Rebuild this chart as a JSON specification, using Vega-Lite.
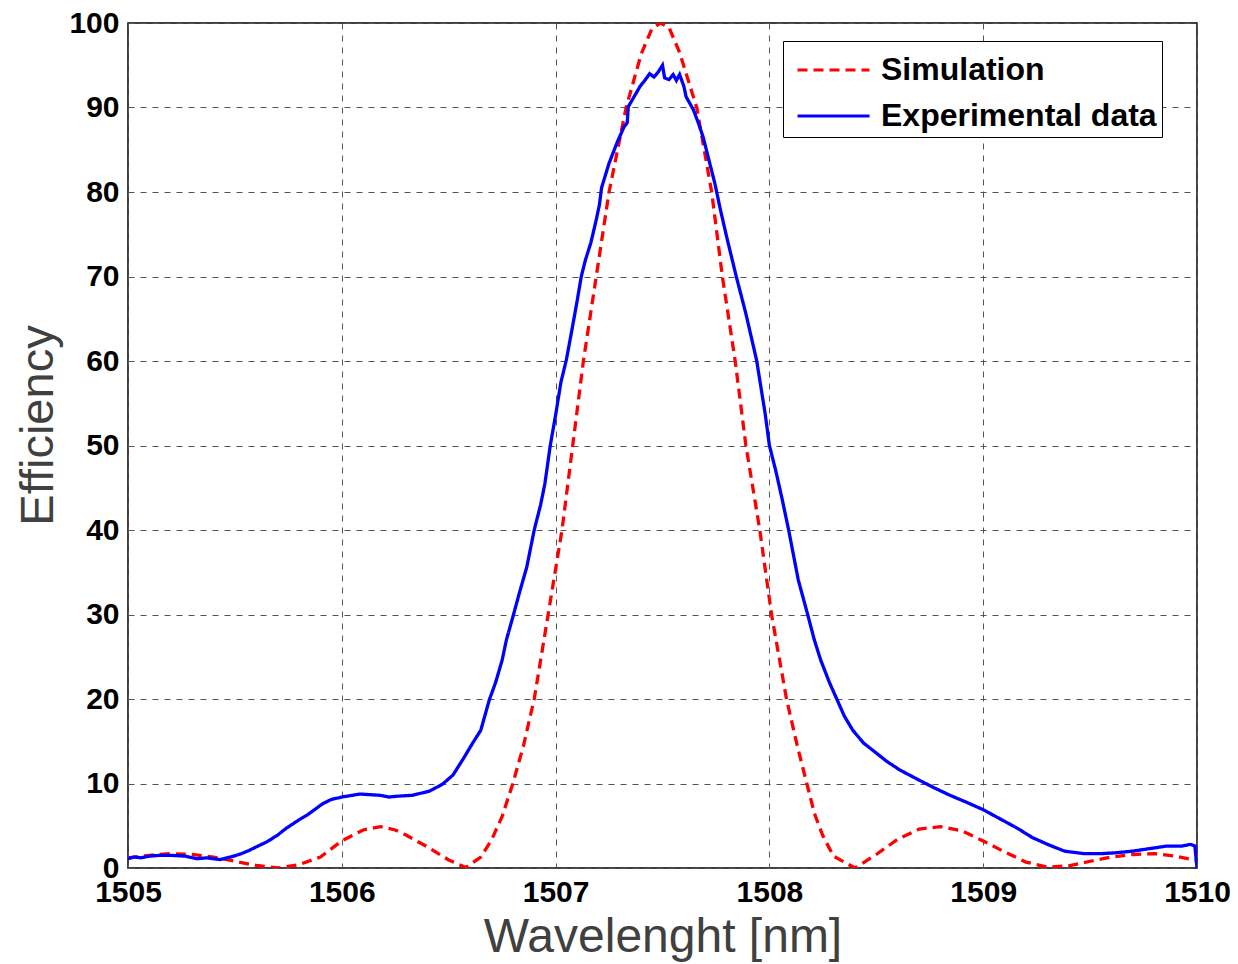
{
  "$schema": "https://vega.github.io/schema/vega-lite/v6.json",
  "width": 1069,
  "height": 845,
  "autosize": {"type": "none"},
  "padding": {"left": 128, "top": 23, "right": 41, "bottom": 96},
  "background": "white",
  "config": {
    "view": {"stroke": "black", "strokeWidth": 1.5},
    "axis": {
      "labelFont": "Liberation Sans",
      "labelFontWeight": "bold",
      "labelFontSize": 30,
      "labelColor": "black",
      "titleFont": "Liberation Sans",
      "titleFontWeight": "normal",
      "titleColor": "#404040",
      "domain": false,
      "ticks": false,
      "grid": true,
      "gridColor": "#555555",
      "gridDash": [6, 6],
      "gridWidth": 1,
      "labelFlush": false
    },
    "legend": {
      "orient": "none",
      "legendX": 655,
      "legendY": 18,
      "strokeColor": "black",
      "fillColor": "white",
      "padding": 5,
      "labelFont": "Liberation Sans",
      "labelFontWeight": "bold",
      "labelFontSize": 32,
      "labelColor": "black",
      "labelLimit": 500,
      "labelOffset": 45,
      "symbolType": "M-0.644,0H2.556",
      "symbolSize": 2025,
      "symbolStrokeWidth": 3,
      "rowPadding": 6
    }
  },
  "data": {
    "values": [
      {"x": 1505.00, "y": 1.2, "s": "Simulation"},
      {"x": 1505.10, "y": 1.5, "s": "Simulation"},
      {"x": 1505.20, "y": 1.7, "s": "Simulation"},
      {"x": 1505.30, "y": 1.6, "s": "Simulation"},
      {"x": 1505.40, "y": 1.3, "s": "Simulation"},
      {"x": 1505.50, "y": 0.8, "s": "Simulation"},
      {"x": 1505.60, "y": 0.3, "s": "Simulation"},
      {"x": 1505.70, "y": 0.0, "s": "Simulation"},
      {"x": 1505.80, "y": 0.4, "s": "Simulation"},
      {"x": 1505.90, "y": 1.3, "s": "Simulation"},
      {"x": 1506.00, "y": 3.2, "s": "Simulation"},
      {"x": 1506.10, "y": 4.5, "s": "Simulation"},
      {"x": 1506.18, "y": 4.9, "s": "Simulation"},
      {"x": 1506.25, "y": 4.5, "s": "Simulation"},
      {"x": 1506.30, "y": 3.9, "s": "Simulation"},
      {"x": 1506.40, "y": 2.5, "s": "Simulation"},
      {"x": 1506.50, "y": 0.95, "s": "Simulation"},
      {"x": 1506.58, "y": 0.05, "s": "Simulation"},
      {"x": 1506.65, "y": 1.3, "s": "Simulation"},
      {"x": 1506.70, "y": 3.3, "s": "Simulation"},
      {"x": 1506.75, "y": 6.1, "s": "Simulation"},
      {"x": 1506.80, "y": 10, "s": "Simulation"},
      {"x": 1506.85, "y": 14.5, "s": "Simulation"},
      {"x": 1506.90, "y": 20, "s": "Simulation"},
      {"x": 1506.965, "y": 30, "s": "Simulation"},
      {"x": 1507.03, "y": 40, "s": "Simulation"},
      {"x": 1507.08, "y": 50, "s": "Simulation"},
      {"x": 1507.13, "y": 60, "s": "Simulation"},
      {"x": 1507.19, "y": 70, "s": "Simulation"},
      {"x": 1507.25, "y": 80, "s": "Simulation"},
      {"x": 1507.33, "y": 90, "s": "Simulation"},
      {"x": 1507.40, "y": 96.3, "s": "Simulation"},
      {"x": 1507.45, "y": 99.3, "s": "Simulation"},
      {"x": 1507.49, "y": 100, "s": "Simulation"},
      {"x": 1507.53, "y": 99.5, "s": "Simulation"},
      {"x": 1507.58, "y": 96.5, "s": "Simulation"},
      {"x": 1507.66, "y": 90, "s": "Simulation"},
      {"x": 1507.73, "y": 80, "s": "Simulation"},
      {"x": 1507.78, "y": 70, "s": "Simulation"},
      {"x": 1507.84, "y": 60, "s": "Simulation"},
      {"x": 1507.89, "y": 50, "s": "Simulation"},
      {"x": 1507.955, "y": 40, "s": "Simulation"},
      {"x": 1508.01, "y": 30, "s": "Simulation"},
      {"x": 1508.08, "y": 20, "s": "Simulation"},
      {"x": 1508.13, "y": 14.5, "s": "Simulation"},
      {"x": 1508.175, "y": 10, "s": "Simulation"},
      {"x": 1508.21, "y": 6.5, "s": "Simulation"},
      {"x": 1508.25, "y": 3.8, "s": "Simulation"},
      {"x": 1508.30, "y": 1.4, "s": "Simulation"},
      {"x": 1508.40, "y": 0.0, "s": "Simulation"},
      {"x": 1508.50, "y": 1.6, "s": "Simulation"},
      {"x": 1508.60, "y": 3.4, "s": "Simulation"},
      {"x": 1508.70, "y": 4.6, "s": "Simulation"},
      {"x": 1508.80, "y": 4.9, "s": "Simulation"},
      {"x": 1508.90, "y": 4.4, "s": "Simulation"},
      {"x": 1509.00, "y": 3.2, "s": "Simulation"},
      {"x": 1509.10, "y": 1.9, "s": "Simulation"},
      {"x": 1509.20, "y": 0.7, "s": "Simulation"},
      {"x": 1509.30, "y": 0.1, "s": "Simulation"},
      {"x": 1509.40, "y": 0.25, "s": "Simulation"},
      {"x": 1509.50, "y": 0.8, "s": "Simulation"},
      {"x": 1509.60, "y": 1.3, "s": "Simulation"},
      {"x": 1509.70, "y": 1.6, "s": "Simulation"},
      {"x": 1509.80, "y": 1.7, "s": "Simulation"},
      {"x": 1509.90, "y": 1.4, "s": "Simulation"},
      {"x": 1510.00, "y": 0.9, "s": "Simulation"},

      {"x": 1505.00, "y": 1.1, "s": "Experimental data"},
      {"x": 1505.03, "y": 1.3, "s": "Experimental data"},
      {"x": 1505.06, "y": 1.2, "s": "Experimental data"},
      {"x": 1505.10, "y": 1.4, "s": "Experimental data"},
      {"x": 1505.15, "y": 1.5, "s": "Experimental data"},
      {"x": 1505.20, "y": 1.5, "s": "Experimental data"},
      {"x": 1505.27, "y": 1.4, "s": "Experimental data"},
      {"x": 1505.32, "y": 1.1, "s": "Experimental data"},
      {"x": 1505.37, "y": 1.2, "s": "Experimental data"},
      {"x": 1505.43, "y": 1.0, "s": "Experimental data"},
      {"x": 1505.48, "y": 1.3, "s": "Experimental data"},
      {"x": 1505.52, "y": 1.6, "s": "Experimental data"},
      {"x": 1505.56, "y": 2.0, "s": "Experimental data"},
      {"x": 1505.60, "y": 2.5, "s": "Experimental data"},
      {"x": 1505.65, "y": 3.1, "s": "Experimental data"},
      {"x": 1505.70, "y": 3.9, "s": "Experimental data"},
      {"x": 1505.74, "y": 4.7, "s": "Experimental data"},
      {"x": 1505.80, "y": 5.7, "s": "Experimental data"},
      {"x": 1505.84, "y": 6.3, "s": "Experimental data"},
      {"x": 1505.91, "y": 7.6, "s": "Experimental data"},
      {"x": 1505.95, "y": 8.1, "s": "Experimental data"},
      {"x": 1506.00, "y": 8.4, "s": "Experimental data"},
      {"x": 1506.085, "y": 8.75, "s": "Experimental data"},
      {"x": 1506.18, "y": 8.6, "s": "Experimental data"},
      {"x": 1506.22, "y": 8.4, "s": "Experimental data"},
      {"x": 1506.26, "y": 8.5, "s": "Experimental data"},
      {"x": 1506.33, "y": 8.6, "s": "Experimental data"},
      {"x": 1506.41, "y": 9.1, "s": "Experimental data"},
      {"x": 1506.47, "y": 9.9, "s": "Experimental data"},
      {"x": 1506.52, "y": 11.0, "s": "Experimental data"},
      {"x": 1506.57, "y": 13.0, "s": "Experimental data"},
      {"x": 1506.61, "y": 14.7, "s": "Experimental data"},
      {"x": 1506.65, "y": 16.3, "s": "Experimental data"},
      {"x": 1506.69, "y": 19.9, "s": "Experimental data"},
      {"x": 1506.72, "y": 22.0, "s": "Experimental data"},
      {"x": 1506.75, "y": 24.6, "s": "Experimental data"},
      {"x": 1506.77, "y": 27.0, "s": "Experimental data"},
      {"x": 1506.80, "y": 29.7, "s": "Experimental data"},
      {"x": 1506.83, "y": 32.5, "s": "Experimental data"},
      {"x": 1506.865, "y": 35.6, "s": "Experimental data"},
      {"x": 1506.90, "y": 40, "s": "Experimental data"},
      {"x": 1506.93, "y": 43, "s": "Experimental data"},
      {"x": 1506.95, "y": 45.5, "s": "Experimental data"},
      {"x": 1506.975, "y": 50, "s": "Experimental data"},
      {"x": 1507.00, "y": 53.6, "s": "Experimental data"},
      {"x": 1507.025, "y": 57.5, "s": "Experimental data"},
      {"x": 1507.05, "y": 60.1, "s": "Experimental data"},
      {"x": 1507.075, "y": 63.5, "s": "Experimental data"},
      {"x": 1507.10, "y": 67, "s": "Experimental data"},
      {"x": 1507.12, "y": 70, "s": "Experimental data"},
      {"x": 1507.14, "y": 72, "s": "Experimental data"},
      {"x": 1507.165, "y": 74, "s": "Experimental data"},
      {"x": 1507.19, "y": 76.7, "s": "Experimental data"},
      {"x": 1507.205, "y": 78.5, "s": "Experimental data"},
      {"x": 1507.215, "y": 80.5, "s": "Experimental data"},
      {"x": 1507.25, "y": 83.4, "s": "Experimental data"},
      {"x": 1507.29, "y": 86.0, "s": "Experimental data"},
      {"x": 1507.32, "y": 87.7, "s": "Experimental data"},
      {"x": 1507.335, "y": 88.2, "s": "Experimental data"},
      {"x": 1507.34, "y": 90.1, "s": "Experimental data"},
      {"x": 1507.37, "y": 91.4, "s": "Experimental data"},
      {"x": 1507.395, "y": 92.5, "s": "Experimental data"},
      {"x": 1507.42, "y": 93.3, "s": "Experimental data"},
      {"x": 1507.44, "y": 94.0, "s": "Experimental data"},
      {"x": 1507.46, "y": 93.6, "s": "Experimental data"},
      {"x": 1507.48, "y": 94.2, "s": "Experimental data"},
      {"x": 1507.50, "y": 95.0, "s": "Experimental data"},
      {"x": 1507.51, "y": 93.5, "s": "Experimental data"},
      {"x": 1507.53, "y": 93.3, "s": "Experimental data"},
      {"x": 1507.55, "y": 93.9, "s": "Experimental data"},
      {"x": 1507.565, "y": 93.2, "s": "Experimental data"},
      {"x": 1507.58, "y": 93.9, "s": "Experimental data"},
      {"x": 1507.60, "y": 92.5, "s": "Experimental data"},
      {"x": 1507.61, "y": 91.3, "s": "Experimental data"},
      {"x": 1507.645, "y": 89.7, "s": "Experimental data"},
      {"x": 1507.67, "y": 88.0, "s": "Experimental data"},
      {"x": 1507.69, "y": 86.5, "s": "Experimental data"},
      {"x": 1507.72, "y": 83.5, "s": "Experimental data"},
      {"x": 1507.745, "y": 81.0, "s": "Experimental data"},
      {"x": 1507.77, "y": 78.0, "s": "Experimental data"},
      {"x": 1507.80, "y": 74.7, "s": "Experimental data"},
      {"x": 1507.845, "y": 70, "s": "Experimental data"},
      {"x": 1507.89, "y": 65.6, "s": "Experimental data"},
      {"x": 1507.94, "y": 60.1, "s": "Experimental data"},
      {"x": 1507.98, "y": 53.8, "s": "Experimental data"},
      {"x": 1508.00, "y": 50, "s": "Experimental data"},
      {"x": 1508.03, "y": 47, "s": "Experimental data"},
      {"x": 1508.06, "y": 43.6, "s": "Experimental data"},
      {"x": 1508.09, "y": 40, "s": "Experimental data"},
      {"x": 1508.135, "y": 34.1, "s": "Experimental data"},
      {"x": 1508.18, "y": 29.9, "s": "Experimental data"},
      {"x": 1508.21, "y": 27.0, "s": "Experimental data"},
      {"x": 1508.24, "y": 24.6, "s": "Experimental data"},
      {"x": 1508.28, "y": 22.0, "s": "Experimental data"},
      {"x": 1508.315, "y": 20, "s": "Experimental data"},
      {"x": 1508.35, "y": 18.0, "s": "Experimental data"},
      {"x": 1508.39, "y": 16.3, "s": "Experimental data"},
      {"x": 1508.44, "y": 14.8, "s": "Experimental data"},
      {"x": 1508.50, "y": 13.6, "s": "Experimental data"},
      {"x": 1508.55, "y": 12.6, "s": "Experimental data"},
      {"x": 1508.61, "y": 11.6, "s": "Experimental data"},
      {"x": 1508.70, "y": 10.4, "s": "Experimental data"},
      {"x": 1508.77, "y": 9.5, "s": "Experimental data"},
      {"x": 1508.845, "y": 8.6, "s": "Experimental data"},
      {"x": 1508.92, "y": 7.8, "s": "Experimental data"},
      {"x": 1509.00, "y": 6.9, "s": "Experimental data"},
      {"x": 1509.08, "y": 5.8, "s": "Experimental data"},
      {"x": 1509.16, "y": 4.7, "s": "Experimental data"},
      {"x": 1509.23, "y": 3.6, "s": "Experimental data"},
      {"x": 1509.31, "y": 2.7, "s": "Experimental data"},
      {"x": 1509.38, "y": 2.0, "s": "Experimental data"},
      {"x": 1509.47, "y": 1.7, "s": "Experimental data"},
      {"x": 1509.55, "y": 1.7, "s": "Experimental data"},
      {"x": 1509.62, "y": 1.8, "s": "Experimental data"},
      {"x": 1509.70, "y": 2.0, "s": "Experimental data"},
      {"x": 1509.78, "y": 2.3, "s": "Experimental data"},
      {"x": 1509.86, "y": 2.6, "s": "Experimental data"},
      {"x": 1509.93, "y": 2.6, "s": "Experimental data"},
      {"x": 1509.97, "y": 2.8, "s": "Experimental data"},
      {"x": 1509.99, "y": 2.6, "s": "Experimental data"},
      {"x": 1510.00, "y": 0, "s": "Experimental data"}
    ]
  },
  "mark": {"type": "line", "strokeWidth": 3.3, "clip": true},
  "encoding": {
    "x": {
      "field": "x",
      "type": "quantitative",
      "scale": {"domain": [1505, 1510], "nice": false, "zero": false},
      "axis": {
        "values": [1505, 1506, 1507, 1508, 1509, 1510],
        "format": "d",
        "labelPadding": 9,
        "title": "Wavelenght [nm]",
        "titleFontSize": 48,
        "titleY": 83,
        "titleBaseline": "alphabetic"
      }
    },
    "y": {
      "field": "y",
      "type": "quantitative",
      "scale": {"domain": [0, 100], "nice": false},
      "axis": {
        "values": [0, 10, 20, 30, 40, 50, 60, 70, 80, 90, 100],
        "labelPadding": 9,
        "title": "Efficiency",
        "titleFontSize": 47,
        "titleX": -76,
        "titleY": 402,
        "titleBaseline": "alphabetic",
        "titleAngle": -90
      }
    },
    "color": {
      "field": "s",
      "type": "nominal",
      "scale": {"domain": ["Simulation", "Experimental data"], "range": ["#FF0000", "#0000FF"]},
      "legend": {"title": null}
    },
    "strokeDash": {
      "field": "s",
      "type": "nominal",
      "scale": {"domain": ["Simulation", "Experimental data"], "range": [[10, 6], [1, 0]]},
      "legend": {"title": null}
    }
  }
}
